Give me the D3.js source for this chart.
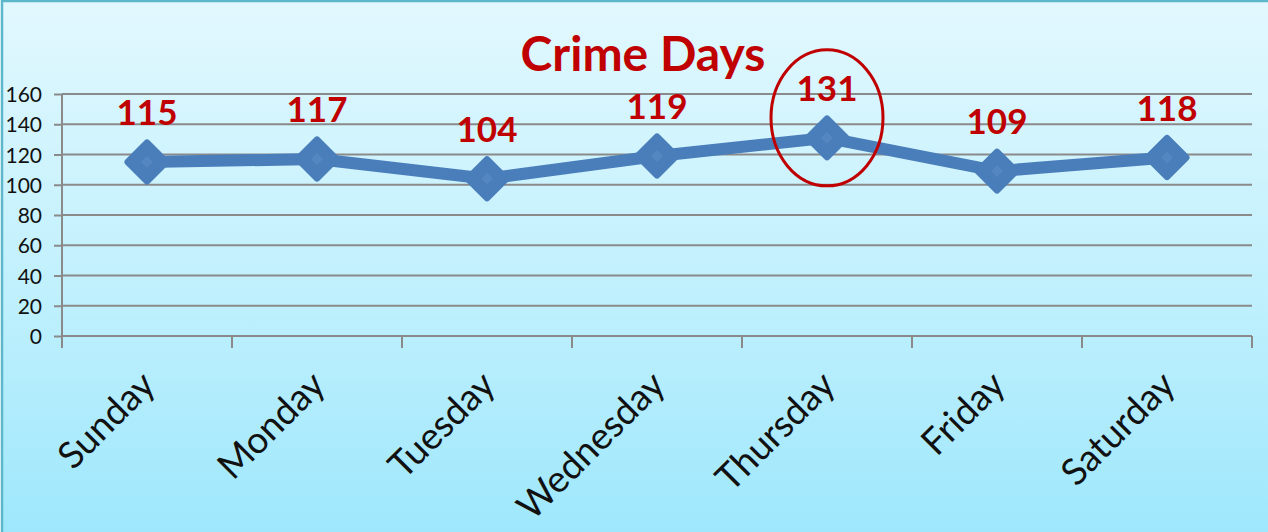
<!DOCTYPE html>
<html>
<head>
<meta charset="utf-8">
<script src="https://cdn.jsdelivr.net/npm/d3@7"></script>
<style>
  html, body { margin: 0; padding: 0; background: #fff; }
  svg { display: block; }
</style>
</head>
<body>
<script>
const days = ["Sunday", "Monday", "Tuesday", "Wednesday", "Thursday", "Friday", "Saturday"];
const crimes = [115, 117, 104, 119, 131, 109, 118];
const yTicks = [0, 20, 40, 60, 80, 100, 120, 140, 160];
const title = "Crime Days";
const highlightDay = "Thursday";

const W = 1268, H = 532;
const svg = d3.select("body").append("svg").attr("width", W).attr("height", H);

const defs = svg.append("defs");
const grad = defs.append("linearGradient").attr("id", "bg").attr("x1", 0).attr("y1", 0).attr("x2", 0).attr("y2", 1);
grad.append("stop").attr("offset", "0%").attr("stop-color", "#e2f8fe");
grad.append("stop").attr("offset", "55%").attr("stop-color", "#bff0fd");
grad.append("stop").attr("offset", "100%").attr("stop-color", "#9de7fc");

svg.append("rect").attr("x", 2).attr("y", 1).attr("width", W + 10).attr("height", H + 10)
  .attr("fill", "url(#bg)").attr("stroke", "#5db7cb").attr("stroke-width", 2.5);

const x = d3.scaleBand().domain(days).range([62, 1252]);
const y = d3.scaleLinear().domain([0, 160]).range([336, 94]);
const cx = d => x(d) + x.bandwidth() / 2;

// gridlines
svg.append("g").selectAll("line").data(yTicks.filter(t => t > 0)).join("line")
  .attr("x1", 62).attr("x2", 1252)
  .attr("y1", d => y(d)).attr("y2", d => y(d))
  .attr("stroke", "#8a8a8a").attr("stroke-width", 2);

// y axis
const yAxis = svg.append("g").attr("transform", "translate(62,0)")
  .call(d3.axisLeft(y).tickValues(yTicks).tickSize(8).tickPadding(12));
yAxis.select(".domain").attr("stroke", "#8a8a8a").attr("stroke-width", 2).attr("d", `M0,${y(160)}V${y(0)}`);
yAxis.selectAll(".tick line").attr("stroke", "#8a8a8a").attr("stroke-width", 2);
yAxis.selectAll(".tick text").attr("font-family", "Lato, sans-serif").attr("font-size", 21)
  .attr("fill", "#111").attr("dy", "0.36em");

// x axis
const xAxis = svg.append("g").attr("transform", `translate(0,${y(0)})`)
  .call(d3.axisBottom(x).tickSize(0).tickFormat(""));
xAxis.select(".domain").attr("stroke", "#8a8a8a").attr("stroke-width", 2).attr("d", "M62,0H1252");
xAxis.selectAll(".tick").remove();
const bounds = x.domain().map(d => x(d)).concat([x.range()[1]]);
xAxis.selectAll("line.bt").data(bounds).join("line").attr("class", "bt")
  .attr("x1", d => d).attr("x2", d => d).attr("y1", 0).attr("y2", 12)
  .attr("stroke", "#8a8a8a").attr("stroke-width", 2);

svg.append("g").selectAll("text").data(days).join("text")
  .attr("transform", d => `translate(${cx(d) + 1},${378}) rotate(-45)`)
  .attr("text-anchor", "end").attr("dy", "0.35em")
  .attr("font-family", "Lato, sans-serif").attr("font-size", 37).attr("fill", "#111")
  .text(d => d);

// line
const line = d3.line().x((d, i) => cx(days[i])).y(d => y(d));
svg.append("path").datum(crimes).attr("d", line)
  .attr("fill", "none").attr("stroke", "#4a7ebb").attr("stroke-width", 12).attr("stroke-linejoin", "round");

// markers
const mk = svg.append("g").selectAll("g").data(crimes).join("g")
  .attr("transform", (d, i) => `translate(${cx(days[i])},${y(d)})`);
const s = 19;
mk.append("path").attr("d", `M0,${-s}L${s},0L0,${s}L${-s},0Z`)
  .attr("fill", "#4a7ebb").attr("stroke", "#4a7ebb").attr("stroke-width", 7).attr("stroke-linejoin", "round");
mk.append("path").attr("d", "M0,-6L6,0L0,6L-6,0Z").attr("fill", "#5b8cc6").attr("opacity", 0.6);

// data labels
svg.append("g").selectAll("text").data(crimes).join("text")
  .attr("x", (d, i) => cx(days[i])).attr("y", d => y(d) - 37)
  .attr("text-anchor", "middle")
  .attr("font-family", "Lato, sans-serif").attr("font-weight", 700).attr("font-size", 35)
  .attr("fill", "#c00000").text(d => d);

// title
svg.append("text").attr("x", 643).attr("y", 71).attr("text-anchor", "middle")
  .attr("font-family", "Lato, sans-serif").attr("font-weight", 700).attr("font-size", 48)
  .attr("fill", "#c00000").text(title);

// highlight ellipse
const hi = days.indexOf(highlightDay);
svg.append("ellipse").attr("cx", cx(highlightDay)).attr("cy", y(crimes[hi]) - 20)
  .attr("rx", 56).attr("ry", 68)
  .attr("fill", "none").attr("stroke", "#c00000").attr("stroke-width", 3);
</script>
</body>
</html>
